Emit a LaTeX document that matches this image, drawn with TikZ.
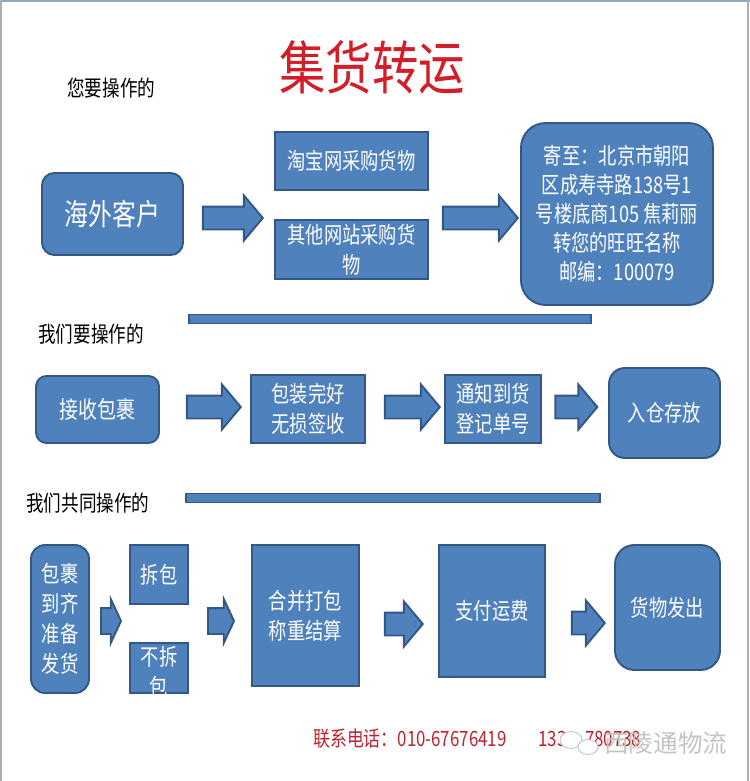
\documentclass[tikz,border=0pt]{standalone}
\usepackage{fontspec}
\setmainfont{Noto Sans CJK SC}[FakeStretch=0.8]
\newfontfamily\markfont{Noto Sans CJK SC}
\usetikzlibrary{shapes.arrows}
\usepackage{xcolor}
\definecolor{boxcolor}{RGB}{79,129,189}
\definecolor{edgecolor}{RGB}{52,88,132}
\definecolor{titlecolor}{RGB}{210,30,40}
\definecolor{phonecolor}{RGB}{190,35,45}
\definecolor{topcolor}{RGB}{150,170,190}
\definecolor{sidecolor}{RGB}{175,175,175}
\definecolor{markcolor}{RGB}{195,195,195}

\begin{document}
\begin{tikzpicture}[x=0.02cm, y=-0.02cm]
  \tikzset{
    box/.style={
      draw=edgecolor,
      line width=1.1pt,
      fill=boxcolor,
      text=white,
      align=center,
      inner sep=0pt,
      anchor=center,
      font=\fontsize{13}{17}\selectfont
    },
    roundbox/.style={
      box,
      rounded corners=7pt
    },
    boxtext/.style={
      text=white,
      align=center,
      inner sep=0pt,
      font=\fontsize{13}{17}\selectfont
    },
    fatarrow/.style={
      single arrow,
      draw=edgecolor,
      line width=1.1pt,
      fill=boxcolor,
      inner xsep=0pt,
      inner ysep=0.21cm,
      single arrow head extend=0.22cm,
      single arrow tip angle=100,
      anchor=center
    },
    stubarrow/.style={
      fatarrow,
      inner ysep=0.24cm,
      single arrow head extend=0.18cm,
      single arrow tip angle=130
    },
    bar/.style={
      draw=edgecolor,
      line width=1.1pt,
      fill=boxcolor,
      minimum height=0.18cm,
      inner sep=0pt
    },
    heading/.style={
      font=\fontsize{12.5}{14}\selectfont,
      anchor=west,
      inner sep=0pt
    }
  }
  \useasboundingbox (0,0) rectangle (750,781);

  % page frame
  \draw[topcolor, line width=0.06cm] (0,1) -- (750,1);
  \draw[sidecolor, line width=0.03cm] (1,0) -- (1,781);
  \draw[sidecolor, line width=0.03cm] (748,0) -- (748,781);

  % title
  \node[text=titlecolor, font=\fontsize{33}{33}\selectfont] at (372,67) (title) {集货转运};
  \node[heading] at (67,88) (youlabel) {您要操作的};

  % first row
  \node[roundbox, minimum width=2.82cm, minimum height=1.64cm,
        font=\fontsize{17}{20}\selectfont] at (112.5,214) (client) {海外客户};
  \node[fatarrow, minimum height=1.2cm] at (228,218) (arrowA) {};
  \node[box, minimum width=3.06cm, minimum height=1.16cm] at (351.5,161) (taobao) {淘宝网采购货物};
  \node[box, minimum width=3.06cm, minimum height=1.18cm] at (351.5,249.5) (otherweb) {其他网站采购货\\物};
  \node[fatarrow, minimum height=1.5cm] at (475.5,218) (arrowB) {};
  \node[roundbox, rounded corners=14pt, minimum width=3.84cm, minimum height=3.64cm,
        font=\fontsize{13}{16.5}\selectfont] at (617,214) (address)
        {寄至：北京市朝阳\\区成寿寺路138号1\\号楼底商105 焦莉丽\\转您的旺旺名称\\邮编：100079};

  % second row
  \node[bar, minimum width=8.04cm] at (390,319) (barone) {};
  \node[heading] at (38,334) (welabel) {我们要操作的};
  \node[roundbox, rounded corners=6pt, minimum width=2.46cm, minimum height=1.34cm,
        font=\fontsize{13.5}{17}\selectfont] at (97.5,409.5) (receive) {接收包裹};
  \node[fatarrow, minimum height=1.08cm] at (209,407) (arrowC) {};
  \node[box, minimum width=2.28cm, minimum height=1.36cm] at (308,409) (intact) {包装完好\\无损签收};
  \node[fatarrow, minimum height=1.1cm] at (407.5,407) (arrowD) {};
  \node[box, minimum width=1.92cm, minimum height=1.36cm] at (493,409) (notify) {通知到货\\登记单号};
  \node[fatarrow, minimum height=0.84cm] at (571.5,407) (arrowE) {};
  \node[roundbox, rounded corners=9pt, minimum width=2.22cm, minimum height=1.8cm] at (664.5,413) (store) {入仓存放};

  % third row
  \node[bar, minimum width=8.28cm] at (393,498) (bartwo) {};
  \node[heading] at (26,503) (togetherlabel) {我们共同操作的};
  \node[roundbox, rounded corners=8pt, minimum width=1.16cm, minimum height=2.96cm] at (60,619) (ready) {包裹\\到齐\\准备\\发货};
  \node[stubarrow, minimum height=0.4cm] at (108,621) (arrowF) {};
  \node[box, minimum width=1.16cm, minimum height=1.18cm] at (159,574.5) (unpack) {拆包};
  \node[box, minimum width=1.16cm, minimum height=1.0cm] at (159,668) (keeppack) {};
  \node[boxtext] at (159,672) (keeppacktext) {不拆\\包};
  \node[stubarrow, minimum height=0.52cm] at (218,621) (arrowG) {};
  \node[box, minimum width=2.14cm, minimum height=2.82cm] at (305.5,615.5) (merge) {合并打包\\称重结算};
  \node[fatarrow, minimum height=0.76cm] at (399,624) (arrowH) {};
  \node[box, minimum width=2.12cm, minimum height=2.64cm] at (492,611) (pay) {支付运费};
  \node[fatarrow, minimum height=0.66cm] at (583.5,623) (arrowI) {};
  \node[roundbox, rounded corners=11pt, minimum width=2.1cm, minimum height=2.5cm] at (667.5,607.5) (ship) {货物发出};

  % contact line
  \node[text=phonecolor, font=\fontsize{12}{14}\selectfont, anchor=west, inner sep=0pt] at (313,739) (phone) {联系电话：010-67676419};
  \node[text=phonecolor, font=\fontsize{12}{14}\selectfont, anchor=west, inner sep=0pt] at (538,739) (mobile) {133\hphantom{00}780738};

  % watermark
  \draw[markcolor, line width=0.5pt, fill=white] (571,740) ellipse (11 and 8.5);
  \draw[markcolor, line width=0.5pt, fill=white] (588,747) ellipse (10 and 7.5);
  \node[text=markcolor, font=\markfont\fontsize{14}{16}\selectfont, anchor=west, inner sep=0pt] at (604,743) (mark) {西陵通物流};
\end{tikzpicture}
\end{document}
